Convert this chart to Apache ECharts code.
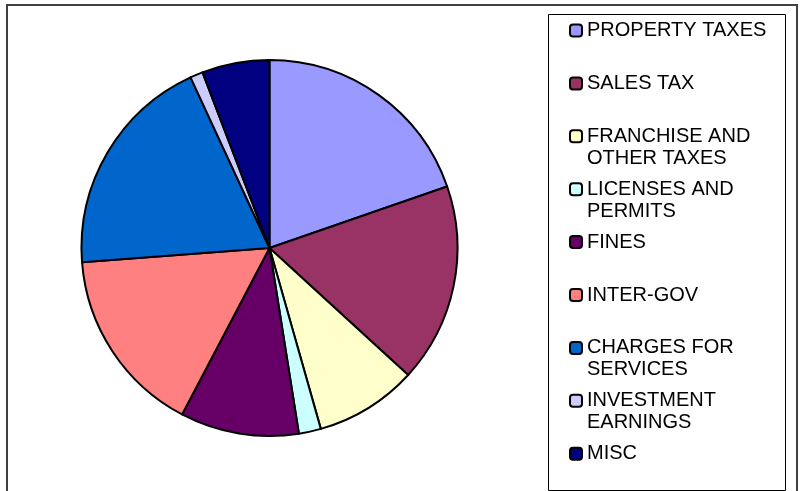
<!DOCTYPE html>
<html>
<head>
<meta charset="utf-8">
<script src="https://cdn.jsdelivr.net/npm/echarts@6/dist/echarts.min.js"></script>
<style>html,body{margin:0;padding:0;background:#fff}#c{width:800px;height:491px}</style>
</head>
<body>
<div id="c"></div>
<script>
const categories = ['PROPERTY TAXES', 'SALES TAX', 'FRANCHISE AND\nOTHER TAXES', 'LICENSES AND\nPERMITS', 'FINES', 'INTER-GOV', 'CHARGES FOR\nSERVICES', 'INVESTMENT\nEARNINGS', 'MISC'];
const values = [19.7, 17.1, 8.8, 1.9, 10.2, 16.1, 19.3, 1.1, 5.8];
const colors = ['#9999FF', '#993366', '#FFFFCC', '#CCFFFF', '#660066', '#FF8080', '#0066CC', '#CCCCFF', '#000080'];

const LH = 22;
const chart = echarts.init(document.getElementById('c'), null, {renderer: 'canvas'});
const legends = categories.map((name, i) => {
  const twoLine = name.indexOf('\n') >= 0;
  const c = 30.5 + 52.9 * i;
  return {
    orient: 'vertical',
    left: 569,
    top: twoLine ? c - 33 : c - 11,
    padding: 0,
    itemWidth: 12,
    itemHeight: 12,
    itemGap: 0,
    data: [name],
    formatter: n => (twoLine ? ' \n' + n : n),
    itemStyle: {borderColor: '#000', borderWidth: 2},
    textStyle: {
      fontFamily: 'Liberation Sans, Arial, sans-serif',
      fontSize: 20,
      color: '#000',
      lineHeight: LH
    },
    selectedMode: false
  };
});

chart.setOption({
  animation: false,
  color: colors,
  graphic: [
    {type: 'rect', shape: {x: 7, y: 5, width: 790, height: 500}, style: {fill: 'none', stroke: '#404040', lineWidth: 2}, z: 100},
    {type: 'rect', shape: {x: 548.5, y: 14.5, width: 237, height: 476}, style: {fill: 'none', stroke: '#000', lineWidth: 1}, z: 100}
  ],
  legend: legends,
  series: [{
    type: 'pie',
    center: [269.5, 248],
    radius: 188,
    startAngle: 90,
    clockwise: true,
    label: {show: false},
    labelLine: {show: false},
    emphasis: {disabled: true},
    itemStyle: {borderColor: '#000', borderWidth: 2},
    data: categories.map((n, i) => ({name: n, value: values[i]}))
  }]
});
</script>
</body>
</html>
